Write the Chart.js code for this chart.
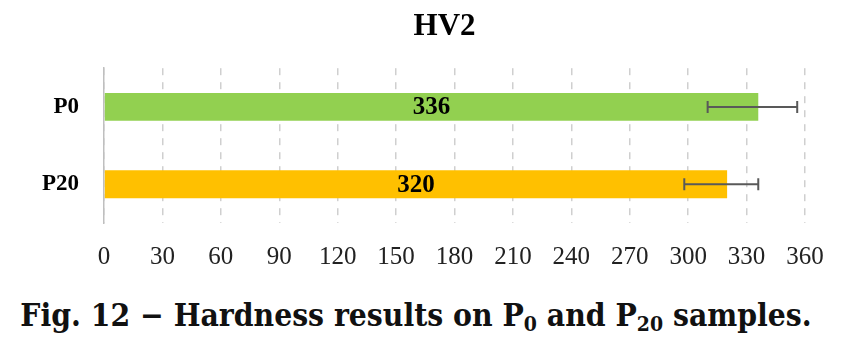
<!DOCTYPE html>
<html>
<head>
<meta charset="utf-8">
<script src="https://cdn.jsdelivr.net/npm/chart.js@4.4.1/dist/chart.umd.min.js"></script>
<style>
  body { margin: 0; background: #fff; width: 862px; height: 344px; overflow: hidden; }
  #wrap { position: relative; width: 862px; height: 299px; }
  #caption {
    font-family: "DejaVu Serif Condensed", "DejaVu Serif", serif;
    font-stretch: condensed;
    font-weight: bold;
    font-size: 31.5px;
    color: #111;
    text-align: center;
    margin-top: -3px;
    margin-left: -30px;
    white-space: nowrap;
  }
  #caption sub { font-size: 21px; vertical-align: -5px; line-height: 0; }
</style>
</head>
<body>
<div id="wrap"><canvas id="hvChart"></canvas></div>
<div id="caption">Fig. 12 &minus; Hardness results on P<sub>0</sub> and P<sub>20</sub> samples.</div>
<script>
const categories = ['P0', 'P20'];
const hardness = [336, 320];
const errLow = [310, 298];
const errHigh = [356, 336];
const barColors = ['#92D050', '#FFC000'];
const xTicks = [0, 30, 60, 90, 120, 150, 180, 210, 240, 270, 300, 330, 360];

const serif = '"Liberation Serif", "Times New Roman", serif';

// error bars + value labels drawn on top of the bars
const extras = {
    id: 'extras',
    afterLayout(chart) {
        // title sits a little left of the plot centre in the original
        if (chart.titleBlock) chart.titleBlock.left -= 20;
    },
    afterDatasetsDraw(chart) {
        const ctx = chart.ctx;
        const x = chart.scales.x;
        const meta = chart.getDatasetMeta(0);
        ctx.save();
        meta.data.forEach((bar, i) => {
            const y = bar.y;
            ctx.fillStyle = '#000';
            ctx.font = 'bold 25px ' + serif;
            ctx.textAlign = 'center';
            ctx.textBaseline = 'middle';
            ctx.fillText(String(hardness[i]), (bar.x + bar.base) / 2, y + 1);
            const x1 = x.getPixelForValue(errLow[i]);
            const x2 = x.getPixelForValue(errHigh[i]);
            ctx.strokeStyle = '#595959';
            ctx.lineWidth = 2;
            ctx.beginPath();
            ctx.moveTo(x1, y); ctx.lineTo(x2, y);
            ctx.moveTo(x1, y - 6); ctx.lineTo(x1, y + 6);
            ctx.moveTo(x2, y - 6); ctx.lineTo(x2, y + 6);
            ctx.stroke();
        });
        ctx.restore();
    }
};

function draw() {
    new Chart(document.getElementById('hvChart'), {
        type: 'bar',
        data: {
            labels: categories,
            datasets: [{
                data: hardness,
                backgroundColor: barColors,
                borderWidth: 0,
                barPercentage: 0.36,
                categoryPercentage: 1
            }]
        },
        options: {
            indexAxis: 'y',
            responsive: true,
            maintainAspectRatio: false,
            animation: false,
            layout: { padding: { left: 17, right: 57, top: 0, bottom: 8 } },
            plugins: {
                legend: { display: false },
                tooltip: { enabled: false },
                title: {
                    display: true,
                    text: 'HV2',
                    fullSize: false,
                    color: '#000',
                    font: { family: serif, size: 31, weight: 'bold' },
                    padding: { top: 8, bottom: 23 }
                }
            },
            scales: {
                x: {
                    min: 0,
                    max: 360,
                    afterBuildTicks(axis) { axis.ticks = xTicks.map(v => ({ value: v })); },
                    grid: {
                        color: '#cfcfcf',
                        lineWidth: 1.5,
                        drawTicks: false
                    },
                    border: { display: false, dash: [7, 7] },
                    ticks: {
                        color: '#222',
                        padding: 19,
                        maxRotation: 0,
                        autoSkip: false,
                        font: { family: serif, size: 25 }
                    }
                },
                y: {
                    grid: { display: false, drawTicks: false },
                    border: { display: true, color: '#bfbfbf', width: 1.5 },
                    ticks: {
                        color: '#000',
                        padding: 25,
                        font: { family: serif, size: 23, weight: 'bold' }
                    }
                }
            }
        },
        plugins: [extras]
    });
}

Promise.all([
    document.fonts.load('bold 25px "Liberation Serif"'),
    document.fonts.load('25px "Liberation Serif"')
]).then(draw, draw);
</script>
</body>
</html>
